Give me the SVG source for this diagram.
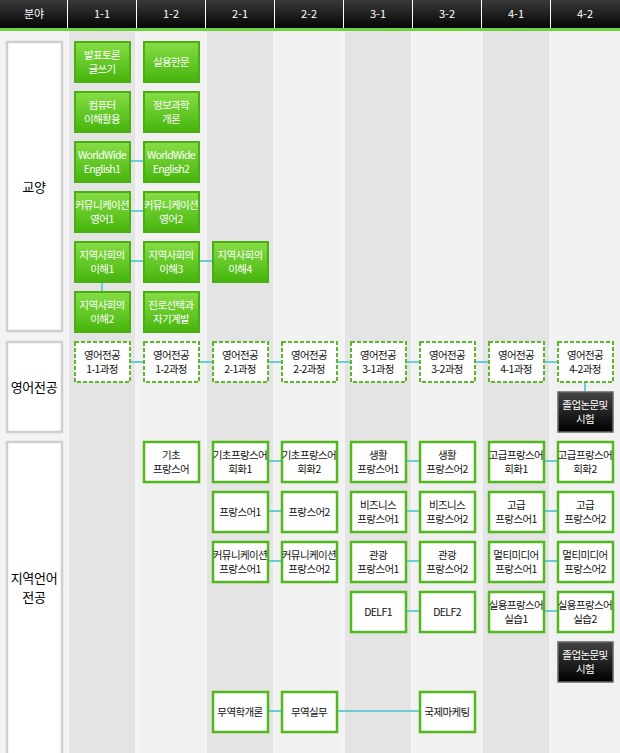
<svg xmlns="http://www.w3.org/2000/svg" width="620" height="753" viewBox="0 0 620 753">
<defs>
<linearGradient id="hd" x1="0" y1="0" x2="0" y2="1"><stop offset="0" stop-color="#3a3a3a"/><stop offset="1" stop-color="#050505"/></linearGradient>
<linearGradient id="gn" x1="0" y1="0" x2="0" y2="1"><stop offset="0" stop-color="#86de45"/><stop offset="1" stop-color="#46b40c"/></linearGradient>
<linearGradient id="bk" x1="0" y1="0" x2="0" y2="1"><stop offset="0" stop-color="#444"/><stop offset="1" stop-color="#000"/></linearGradient>
<style>
text{font-family:"Noto Sans CJK KR","Noto Sans",sans-serif;font-size:10.5px;text-anchor:middle;letter-spacing:-0.6px}
.h{fill:#fff;font-size:11px;letter-spacing:0}
.g rect{fill:url(#gn);stroke:#4aaf12;stroke-width:2}
.g text{fill:#fff}
.w rect{fill:#fff;stroke:#52b81e;stroke-width:2.5}
.w text{fill:#111}
.d rect{fill:#fff;stroke:#5cb82a;stroke-width:2;stroke-dasharray:4 2}
.d text{fill:#111}
.b rect{fill:url(#bk);stroke:#666;stroke-width:1.5}
.b text{fill:#fff}
.lb rect{fill:#fff;stroke:#cfcfcf;stroke-width:2.5}
.lb text{font-size:13px;fill:#000;letter-spacing:-0.3px}
#conn line{stroke:#6ccbd9;stroke-width:2}
</style>
</defs>
<rect width="620" height="753" fill="#f3f3f3"/>
<g id="cols">
<rect x="69" y="31" width="66" height="722" fill="#e4e4e4"/>
<rect x="138" y="31" width="66" height="722" fill="#f1f1f1"/>
<rect x="207" y="31" width="66" height="722" fill="#e4e4e4"/>
<rect x="276" y="31" width="66" height="722" fill="#f1f1f1"/>
<rect x="345" y="31" width="66" height="722" fill="#e4e4e4"/>
<rect x="414" y="31" width="66" height="722" fill="#f1f1f1"/>
<rect x="483" y="31" width="66" height="722" fill="#e4e4e4"/>
<rect x="552" y="31" width="68" height="722" fill="#f1f1f1"/>
</g>
<g id="header">
<rect width="620" height="28" fill="url(#hd)"/>
<rect y="28" width="620" height="3" fill="#6cd33c"/>
<g stroke="#fff" stroke-width="1"><line x1="67.5" y1="0" x2="67.5" y2="28"/><line x1="136.5" y1="0" x2="136.5" y2="28"/><line x1="205.5" y1="0" x2="205.5" y2="28"/><line x1="274.5" y1="0" x2="274.5" y2="28"/><line x1="343.5" y1="0" x2="343.5" y2="28"/><line x1="412.5" y1="0" x2="412.5" y2="28"/><line x1="481.5" y1="0" x2="481.5" y2="28"/><line x1="550.5" y1="0" x2="550.5" y2="28"/></g>
<text class="h" x="34" y="18">분야</text><text class="h" x="102" y="18">1-1</text><text class="h" x="171" y="18">1-2</text><text class="h" x="240" y="18">2-1</text><text class="h" x="309" y="18">2-2</text><text class="h" x="378" y="18">3-1</text><text class="h" x="447" y="18">3-2</text><text class="h" x="516" y="18">4-1</text><text class="h" x="585" y="18">4-2</text>
</g>
<g id="labels">
<g id="lb1" class="lb"><rect x="7" y="42" width="55" height="289"/><text x="34" y="192">교양</text></g>
<g id="lb2" class="lb"><rect x="7" y="342" width="55" height="90"/><text x="34" y="392">영어전공</text></g>
<g id="lb3" class="lb"><rect x="7" y="442" width="55" height="315"/><text x="34" y="583">지역언어</text><text x="34" y="602">전공</text></g>
</g>
<g id="conn">
<line x1="130" y1="161" x2="143" y2="161"/>
<line x1="130" y1="211" x2="143" y2="211"/>
<line x1="130" y1="261" x2="212" y2="261"/>
<line x1="102" y1="282" x2="102" y2="291"/>
<line x1="130" y1="362" x2="557" y2="362"/>
<line x1="585" y1="382" x2="585" y2="391"/>
<line x1="268" y1="461" x2="281" y2="461"/><line x1="406" y1="461" x2="419" y2="461"/><line x1="544" y1="461" x2="557" y2="461"/>
<line x1="268" y1="511" x2="281" y2="511"/><line x1="406" y1="511" x2="419" y2="511"/><line x1="544" y1="511" x2="557" y2="511"/>
<line x1="268" y1="561" x2="281" y2="561"/><line x1="406" y1="561" x2="419" y2="561"/><line x1="544" y1="561" x2="557" y2="561"/>
<line x1="406" y1="611" x2="419" y2="611"/><line x1="544" y1="611" x2="557" y2="611"/>
<line x1="268" y1="711" x2="419" y2="711"/>
</g>
<g id="g1" class="g"><rect x="75" y="42" width="55" height="40"/><text x="102" y="59">발표토론</text><text x="102" y="73">글쓰기</text></g>
<g id="g2" class="g"><rect x="144" y="42" width="55" height="40"/><text x="171" y="66">실용한문</text></g>
<g id="g3" class="g"><rect x="75" y="92" width="55" height="40"/><text x="102" y="109">컴퓨터</text><text x="102" y="123">이해활용</text></g>
<g id="g4" class="g"><rect x="144" y="92" width="55" height="40"/><text x="171" y="109">정보과학</text><text x="171" y="123">개론</text></g>
<g id="g5" class="g"><rect x="75" y="142" width="55" height="40"/><text x="102" y="159">WorldWide</text><text x="102" y="173">English1</text></g>
<g id="g6" class="g"><rect x="144" y="142" width="55" height="40"/><text x="171" y="159">WorldWide</text><text x="171" y="173">English2</text></g>
<g id="g7" class="g"><rect x="75" y="192" width="55" height="40"/><text x="102" y="209">커뮤니케이션</text><text x="102" y="223">영어1</text></g>
<g id="g8" class="g"><rect x="144" y="192" width="55" height="40"/><text x="171" y="209">커뮤니케이션</text><text x="171" y="223">영어2</text></g>
<g id="g9" class="g"><rect x="75" y="242" width="55" height="40"/><text x="102" y="259">지역사회의</text><text x="102" y="273">이해1</text></g>
<g id="g10" class="g"><rect x="144" y="242" width="55" height="40"/><text x="171" y="259">지역사회의</text><text x="171" y="273">이해3</text></g>
<g id="g11" class="g"><rect x="213" y="242" width="55" height="40"/><text x="240" y="259">지역사회의</text><text x="240" y="273">이해4</text></g>
<g id="g12" class="g"><rect x="75" y="292" width="55" height="40"/><text x="102" y="309">지역사회의</text><text x="102" y="323">이해2</text></g>
<g id="g13" class="g"><rect x="144" y="292" width="55" height="40"/><text x="171" y="309">진로선택과</text><text x="171" y="323">자기계발</text></g>
<g id="e1" class="d"><rect x="75" y="342" width="55" height="40"/><text x="102" y="359">영어전공</text><text x="102" y="373">1-1과정</text></g>
<g id="e2" class="d"><rect x="144" y="342" width="55" height="40"/><text x="171" y="359">영어전공</text><text x="171" y="373">1-2과정</text></g>
<g id="e3" class="d"><rect x="213" y="342" width="55" height="40"/><text x="240" y="359">영어전공</text><text x="240" y="373">2-1과정</text></g>
<g id="e4" class="d"><rect x="282" y="342" width="55" height="40"/><text x="309" y="359">영어전공</text><text x="309" y="373">2-2과정</text></g>
<g id="e5" class="d"><rect x="351" y="342" width="55" height="40"/><text x="378" y="359">영어전공</text><text x="378" y="373">3-1과정</text></g>
<g id="e6" class="d"><rect x="420" y="342" width="55" height="40"/><text x="447" y="359">영어전공</text><text x="447" y="373">3-2과정</text></g>
<g id="e7" class="d"><rect x="489" y="342" width="55" height="40"/><text x="516" y="359">영어전공</text><text x="516" y="373">4-1과정</text></g>
<g id="e8" class="d"><rect x="558" y="342" width="55" height="40"/><text x="585" y="359">영어전공</text><text x="585" y="373">4-2과정</text></g>
<g id="b1" class="b"><rect x="558" y="392" width="55" height="40"/><text x="585" y="409">졸업논문및</text><text x="585" y="423">시험</text></g>
<g id="r1" class="w"><rect x="144" y="442" width="55" height="40"/><text x="171" y="459">기초</text><text x="171" y="473">프랑스어</text></g>
<g id="r2" class="w"><rect x="213" y="442" width="55" height="40"/><text x="240" y="459">기초프랑스어</text><text x="240" y="473">회화1</text></g>
<g id="r3" class="w"><rect x="282" y="442" width="55" height="40"/><text x="309" y="459">기초프랑스어</text><text x="309" y="473">회화2</text></g>
<g id="r4" class="w"><rect x="351" y="442" width="55" height="40"/><text x="378" y="459">생활</text><text x="378" y="473">프랑스어1</text></g>
<g id="r5" class="w"><rect x="420" y="442" width="55" height="40"/><text x="447" y="459">생활</text><text x="447" y="473">프랑스어2</text></g>
<g id="r6" class="w"><rect x="489" y="442" width="55" height="40"/><text x="516" y="459">고급프랑스어</text><text x="516" y="473">회화1</text></g>
<g id="r7" class="w"><rect x="558" y="442" width="55" height="40"/><text x="585" y="459">고급프랑스어</text><text x="585" y="473">회화2</text></g>
<g id="r8" class="w"><rect x="213" y="492" width="55" height="40"/><text x="240" y="516">프랑스어1</text></g>
<g id="r9" class="w"><rect x="282" y="492" width="55" height="40"/><text x="309" y="516">프랑스어2</text></g>
<g id="r10" class="w"><rect x="351" y="492" width="55" height="40"/><text x="378" y="509">비즈니스</text><text x="378" y="523">프랑스어1</text></g>
<g id="r11" class="w"><rect x="420" y="492" width="55" height="40"/><text x="447" y="509">비즈니스</text><text x="447" y="523">프랑스어2</text></g>
<g id="r12" class="w"><rect x="489" y="492" width="55" height="40"/><text x="516" y="509">고급</text><text x="516" y="523">프랑스어1</text></g>
<g id="r13" class="w"><rect x="558" y="492" width="55" height="40"/><text x="585" y="509">고급</text><text x="585" y="523">프랑스어2</text></g>
<g id="r14" class="w"><rect x="213" y="542" width="55" height="40"/><text x="240" y="559">커뮤니케이션</text><text x="240" y="573">프랑스어1</text></g>
<g id="r15" class="w"><rect x="282" y="542" width="55" height="40"/><text x="309" y="559">커뮤니케이션</text><text x="309" y="573">프랑스어2</text></g>
<g id="r16" class="w"><rect x="351" y="542" width="55" height="40"/><text x="378" y="559">관광</text><text x="378" y="573">프랑스어1</text></g>
<g id="r17" class="w"><rect x="420" y="542" width="55" height="40"/><text x="447" y="559">관광</text><text x="447" y="573">프랑스어2</text></g>
<g id="r18" class="w"><rect x="489" y="542" width="55" height="40"/><text x="516" y="559">멀티미디어</text><text x="516" y="573">프랑스어1</text></g>
<g id="r19" class="w"><rect x="558" y="542" width="55" height="40"/><text x="585" y="559">멀티미디어</text><text x="585" y="573">프랑스어2</text></g>
<g id="r20" class="w"><rect x="351" y="592" width="55" height="40"/><text x="378" y="616">DELF1</text></g>
<g id="r21" class="w"><rect x="420" y="592" width="55" height="40"/><text x="447" y="616">DELF2</text></g>
<g id="r22" class="w"><rect x="489" y="592" width="55" height="40"/><text x="516" y="609">실용프랑스어</text><text x="516" y="623">실습1</text></g>
<g id="r23" class="w"><rect x="558" y="592" width="55" height="40"/><text x="585" y="609">실용프랑스어</text><text x="585" y="623">실습2</text></g>
<g id="b2" class="b"><rect x="558" y="642" width="55" height="40"/><text x="585" y="659">졸업논문및</text><text x="585" y="673">시험</text></g>
<g id="r24" class="w"><rect x="213" y="692" width="55" height="40"/><text x="240" y="716">무역학개론</text></g>
<g id="r25" class="w"><rect x="282" y="692" width="55" height="40"/><text x="309" y="716">무역실무</text></g>
<g id="r26" class="w"><rect x="420" y="692" width="55" height="40"/><text x="447" y="716">국제마케팅</text></g>
</svg>
